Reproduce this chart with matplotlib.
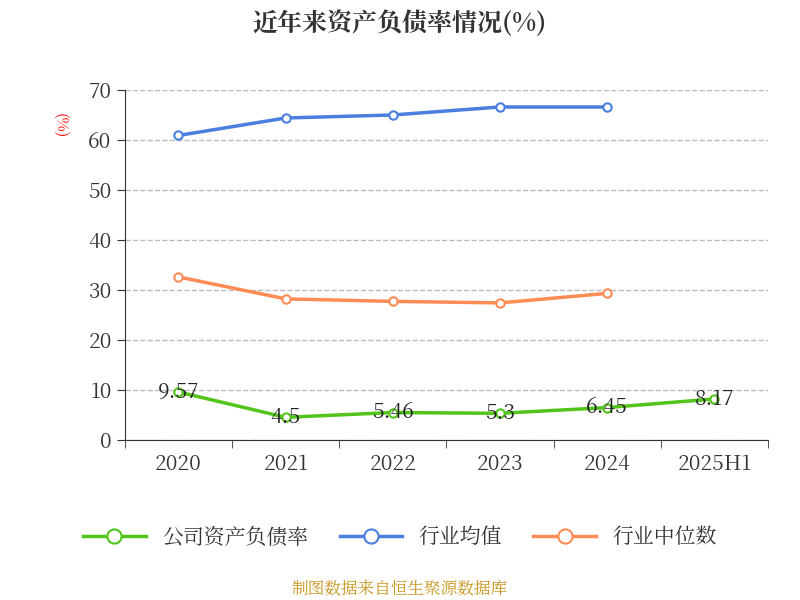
import matplotlib.pyplot as plt
from matplotlib import font_manager
import numpy as np

# locate a CJK font file and register it
cjk_name = None
for f in font_manager.findSystemFonts():
    if 'CJK' in f or 'cjk' in f.lower():
        try:
            font_manager.fontManager.addfont(f)
            cjk_name = font_manager.FontProperties(fname=f).get_name()
            if 'SC' in cjk_name:
                break
        except Exception:
            pass
plt.rcParams['font.family'] = 'sans-serif'
plt.rcParams['font.sans-serif'] = [cjk_name or 'Noto Sans CJK SC', 'DejaVu Sans']

years = ['2020', '2021', '2022', '2023', '2024', '2025H1']
company = [9.57, 4.5, 5.46, 5.3, 6.45, 8.17]
industry_avg = [60.9, 64.4, 65.0, 66.6, 66.6]
industry_median = [32.6, 28.2, 27.7, 27.4, 29.3]

fig = plt.figure(figsize=(8, 6), dpi=100)
ax = fig.add_axes([0.156, 0.267, 0.804, 0.583])

x = np.arange(len(years))
mk = dict(marker='o', markersize=6, markerfacecolor='white', markeredgewidth=1.5, linewidth=2.5)
ax.plot(x, company, color='#52c41a', label='公司资产负债率', **mk, zorder=3)
ax.plot(x[:5], industry_avg, color='#4a7fe0', label='行业均值', **mk, zorder=3)
ax.plot(x[:5], industry_median, color='#ff8c55', label='行业中位数', **mk, zorder=3)

for xi, v in zip(x, company):
    ax.text(xi, v, f'{v:g}', ha='center', va='center', fontsize=15, color='#222222', zorder=4)

ax.set_xlim(-0.5, 5.5)
ax.set_ylim(0, 70)
ax.set_yticks(range(0, 71, 10))
ax.set_xticks(x)
ax.set_xticklabels(years)
ax.set_xticks(np.arange(-0.5, 5.6, 1), minor=True)
ax.tick_params(axis='x', which='major', length=0, labelsize=15, colors='#333333', pad=10)
ax.tick_params(axis='x', which='minor', length=6, color='#333333')
ax.tick_params(axis='y', length=6, labelsize=15, colors='#333333', direction='out')
ax.grid(axis='y', linestyle='--', color='#bbbbbb', linewidth=1)
for s in ['top', 'right']:
    ax.spines[s].set_visible(False)
ax.spines['left'].set_color('#333333')
ax.spines['bottom'].set_color('#333333')
ax.set_axisbelow(True)

fig.text(0.075, 0.79, '(%)', color='red', fontsize=11, rotation=270, ha='center', va='center')
fig.text(0.5, 0.96, '近年来资产负债率情况(%)', ha='center', va='center', fontsize=18, fontweight='bold', color='#333333')
fig.legend(loc='center', bbox_to_anchor=(0.5, 0.105), ncol=3, frameon=False, fontsize=15,
           handlelength=3, columnspacing=1.5, labelcolor='#333333', markerscale=1.7)
fig.text(0.5, 0.017, '制图数据来自恒生聚源数据库', ha='center', va='center', fontsize=12, color='#c8961e')

fig.savefig('out.png')
